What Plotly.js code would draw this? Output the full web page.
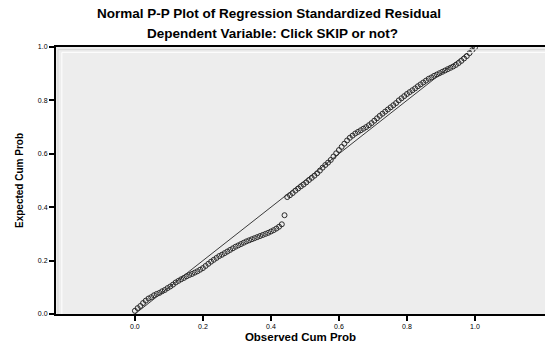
<!DOCTYPE html>
<html>
<head>
<meta charset="utf-8">
<script src="https://cdn.plot.ly/plotly-3.0.1.min.js"></script>
<style>html,body{margin:0;padding:0;background:#fff;}#chart{width:545px;height:343px;}</style>
</head>
<body>
<div id="chart"></div>
<script>
var observedCumProb = [0.000,0.008,0.016,0.024,0.032,0.040,0.048,0.056,0.064,0.072,0.080,0.088,0.096,0.104,0.112,0.120,0.128,0.136,0.144,0.152,0.160,0.168,0.176,0.184,0.192,0.200,0.208,0.216,0.224,0.232,0.240,0.248,0.256,0.264,0.272,0.280,0.288,0.296,0.304,0.312,0.320,0.328,0.336,0.344,0.352,0.360,0.368,0.376,0.384,0.392,0.400,0.408,0.416,0.424,0.432,0.440,0.448,0.456,0.464,0.472,0.480,0.488,0.496,0.504,0.512,0.520,0.528,0.536,0.544,0.552,0.560,0.568,0.576,0.584,0.592,0.600,0.608,0.616,0.624,0.632,0.640,0.648,0.656,0.664,0.672,0.680,0.688,0.696,0.704,0.712,0.720,0.728,0.736,0.744,0.752,0.760,0.768,0.776,0.784,0.792,0.800,0.808,0.816,0.824,0.832,0.840,0.848,0.856,0.864,0.872,0.880,0.888,0.896,0.904,0.912,0.920,0.928,0.936,0.944,0.952,0.960,0.968,0.976,0.984,0.992,1.000];
var expectedCumProb = [0.012,0.022,0.030,0.041,0.050,0.058,0.063,0.070,0.075,0.079,0.085,0.090,0.097,0.103,0.110,0.118,0.124,0.130,0.135,0.141,0.146,0.150,0.155,0.160,0.166,0.172,0.180,0.188,0.196,0.203,0.210,0.217,0.222,0.228,0.234,0.240,0.246,0.252,0.257,0.262,0.267,0.272,0.276,0.280,0.284,0.288,0.292,0.296,0.300,0.304,0.309,0.314,0.320,0.327,0.336,0.370,0.438,0.445,0.453,0.462,0.470,0.478,0.485,0.493,0.502,0.510,0.518,0.527,0.537,0.548,0.558,0.567,0.577,0.590,0.602,0.614,0.626,0.638,0.650,0.660,0.668,0.676,0.682,0.688,0.694,0.700,0.707,0.715,0.724,0.733,0.742,0.750,0.758,0.766,0.774,0.782,0.790,0.800,0.808,0.816,0.824,0.831,0.838,0.845,0.853,0.860,0.867,0.874,0.881,0.886,0.892,0.897,0.902,0.907,0.912,0.917,0.922,0.927,0.933,0.940,0.948,0.957,0.966,0.977,0.988,0.998];
var refLine = [0, 1];
var tickValues = [0, 0.2, 0.4, 0.6, 0.8, 1.0];
var tickLabels = ["0.0", "0.2", "0.4", "0.6", "0.8", "1.0"];

var traces = [
  {x: refLine, y: refLine, mode: 'lines', type: 'scatter',
   line: {color: '#3a3a3a', width: 1}, hoverinfo: 'skip'},
  {x: observedCumProb, y: expectedCumProb, mode: 'markers', type: 'scatter',
   marker: {symbol: 'circle-open', size: 5, color: '#2a2a2a', line: {width: 1, color: '#2a2a2a'}}}
];

var fontFam = '"Liberation Sans", Arial, sans-serif';
var layout = {
  width: 545, height: 343,
  margin: {l: 56, r: 0, t: 47, b: 29},
  paper_bgcolor: '#ffffff',
  plot_bgcolor: '#ededed',
  showlegend: false,
  font: {family: fontFam, color: '#000'},
  xaxis: {
    range: [-0.232, 1.206],
    tickvals: tickValues, ticktext: tickLabels,
    ticks: 'outside', ticklen: 5, tickwidth: 2, tickcolor: '#000',
    tickfont: {size: 7, color: '#000'},
    showgrid: false, zeroline: false,
    showline: true, linecolor: '#000', linewidth: 2, mirror: true,
    title: {text: '<b>Observed Cum Prob</b>', font: {size: 11.5, color: '#000'}, standoff: 4}
  },
  yaxis: {
    range: [0, 1],
    tickvals: tickValues, ticktext: tickLabels,
    ticks: 'outside', ticklen: 5, tickwidth: 2, tickcolor: '#000',
    tickfont: {size: 7, color: '#000'},
    showgrid: false, zeroline: false,
    showline: true, linecolor: '#000', linewidth: 2,
    title: {text: '<b>Expected Cum Prob</b>', font: {size: 10, color: '#000'}, standoff: 12}
  },
  annotations: [
    {text: '<b>Normal P-P Plot of Regression Standardized Residual</b>', xref: 'paper', yref: 'paper',
     x: 0.436, y: 1, xanchor: 'center', yanchor: 'bottom', yshift: 24, showarrow: false,
     font: {size: 13.5, color: '#000', family: fontFam}},
    {text: '<b>Dependent Variable: Click SKIP or not?</b>', xref: 'paper', yref: 'paper',
     x: 0.442, y: 1, xanchor: 'center', yanchor: 'bottom', yshift: 4, showarrow: false,
     font: {size: 13.5, color: '#000', family: fontFam}}
  ],
  shapes: [
    {type: 'line', xref: 'paper', yref: 'paper', x0: 0.004, x1: 0.004, y0: 0, y1: 0.99, line: {color: '#d6d6d6', width: 1}},
    {type: 'line', xref: 'paper', yref: 'paper', x0: 0.012, x1: 0.012, y0: 0, y1: 0.98, line: {color: '#ffffff', width: 1}},
    {type: 'line', xref: 'paper', yref: 'paper', x0: 0.004, x1: 1, y0: 0.99, y1: 0.99, line: {color: '#d6d6d6', width: 1}},
    {type: 'line', xref: 'paper', yref: 'paper', x0: 0.012, x1: 1, y0: 0.98, y1: 0.98, line: {color: '#ffffff', width: 1}}
  ]
};

Plotly.newPlot('chart', traces, layout, {staticPlot: true, displayModeBar: false});
</script>
</body>
</html>
